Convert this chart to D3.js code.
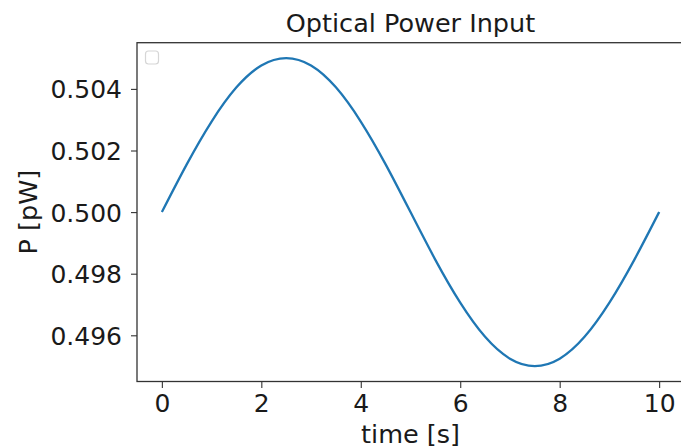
<!DOCTYPE html>
<html>
<head>
<meta charset="utf-8">
<script src="https://cdn.jsdelivr.net/npm/d3@7"></script>
<style>
  body { margin: 0; background: #fff; }
  svg { display: block; font-family: "DejaVu Sans", sans-serif; }
</style>
</head>
<body>
<div id="chart"></div>
<script>
// values
const times = [0, 0.5, 1, 1.5, 2, 2.5, 3, 3.5, 4, 4.5, 5, 5.5, 6, 6.5, 7, 7.5, 8, 8.5, 9, 9.5, 10]
const power = [0.5, 0.50155, 0.50294, 0.50405, 0.50476, 0.505, 0.50476, 0.50405, 0.50294, 0.50155,
  0.5, 0.49845, 0.49706, 0.49595, 0.49524, 0.495, 0.49524, 0.49595, 0.49706, 0.49845, 0.5]
const xTicks = [0, 2, 4, 6, 8, 10]
const yTicks = [0.496, 0.498, 0.5, 0.502, 0.504]

const width = 681
const height = 448
const margin = { top: 42.7, right: -3, bottom: 66.5, left: 137 }

const points = times.map((t, i) => ({ t: t, p: power[i] }))

const x = d3.scaleLinear()
  .domain([-0.5, 10.5])
  .range([margin.left, width - margin.right])

const y = d3.scaleLinear()
  .domain([0.4945, 0.5055])
  .range([height - margin.bottom, margin.top])

const svg = d3.select("#chart")
  .append("svg")
  .attr("width", width)
  .attr("height", height)

// x axis
const xAxis = svg.append("g")
  .attr("transform", `translate(0,${height - margin.bottom})`)
  .call(d3.axisBottom(x).tickValues(xTicks).tickFormat(d3.format("d")).tickSize(6.5).tickSizeOuter(0))
xAxis.select(".domain").remove()
xAxis.selectAll("line").attr("stroke", "#333").attr("stroke-width", 1.1)
xAxis.selectAll("text")
  .attr("dy", null)
  .attr("y", 30.5)
  .attr("font-size", "25px")
  .attr("fill", "#1a1a1a")
  .attr("font-family", "DejaVu Sans")

// y axis
const yAxis = svg.append("g")
  .attr("transform", `translate(${margin.left},0)`)
  .call(d3.axisLeft(y).tickValues(yTicks).tickFormat(d3.format(".3f")).tickSize(6).tickPadding(9).tickSizeOuter(0))
yAxis.select(".domain").remove()
yAxis.selectAll("line").attr("stroke", "#333").attr("stroke-width", 1.1)
yAxis.selectAll("text")
  .attr("dy", "0.36em")
  .attr("font-size", "25px")
  .attr("fill", "#1a1a1a")
  .attr("font-family", "DejaVu Sans")

// frame
svg.append("rect")
  .attr("x", margin.left)
  .attr("y", margin.top)
  .attr("width", x.range()[1] - margin.left)
  .attr("height", y.range()[0] - margin.top)
  .attr("fill", "none")
  .attr("stroke", "#333")
  .attr("stroke-width", 1.3)

// line
const line = d3.line()
  .x((d) => x(d.t))
  .y((d) => y(d.p))
  .curve(d3.curveNatural)

svg.append("path")
  .datum(points)
  .attr("d", line)
  .attr("fill", "none")
  .attr("stroke", "#1f77b4")
  .attr("stroke-width", 2.3)

// empty legend box
svg.append("rect")
  .attr("x", 145.5)
  .attr("y", 51)
  .attr("width", 13)
  .attr("height", 13)
  .attr("rx", 3)
  .attr("fill", "#fff")
  .attr("stroke", "#d6d6d6")
  .attr("stroke-width", 1.2)

// title and labels
svg.append("text")
  .attr("x", (margin.left + x.range()[1]) / 2)
  .attr("y", 32)
  .attr("text-anchor", "middle")
  .attr("font-size", "25.5px")
  .attr("fill", "#1a1a1a")
  .text("Optical Power Input")

svg.append("text")
  .attr("x", (margin.left + x.range()[1]) / 2)
  .attr("y", 443)
  .attr("text-anchor", "middle")
  .attr("font-size", "25.5px")
  .attr("fill", "#1a1a1a")
  .text("time [s]")

svg.append("text")
  .attr("transform", `translate(37,${(margin.top + y.range()[0]) / 2}) rotate(-90)`)
  .attr("text-anchor", "middle")
  .attr("font-size", "25.5px")
  .attr("fill", "#1a1a1a")
  .text("P [pW]")
</script>
</body>
</html>
